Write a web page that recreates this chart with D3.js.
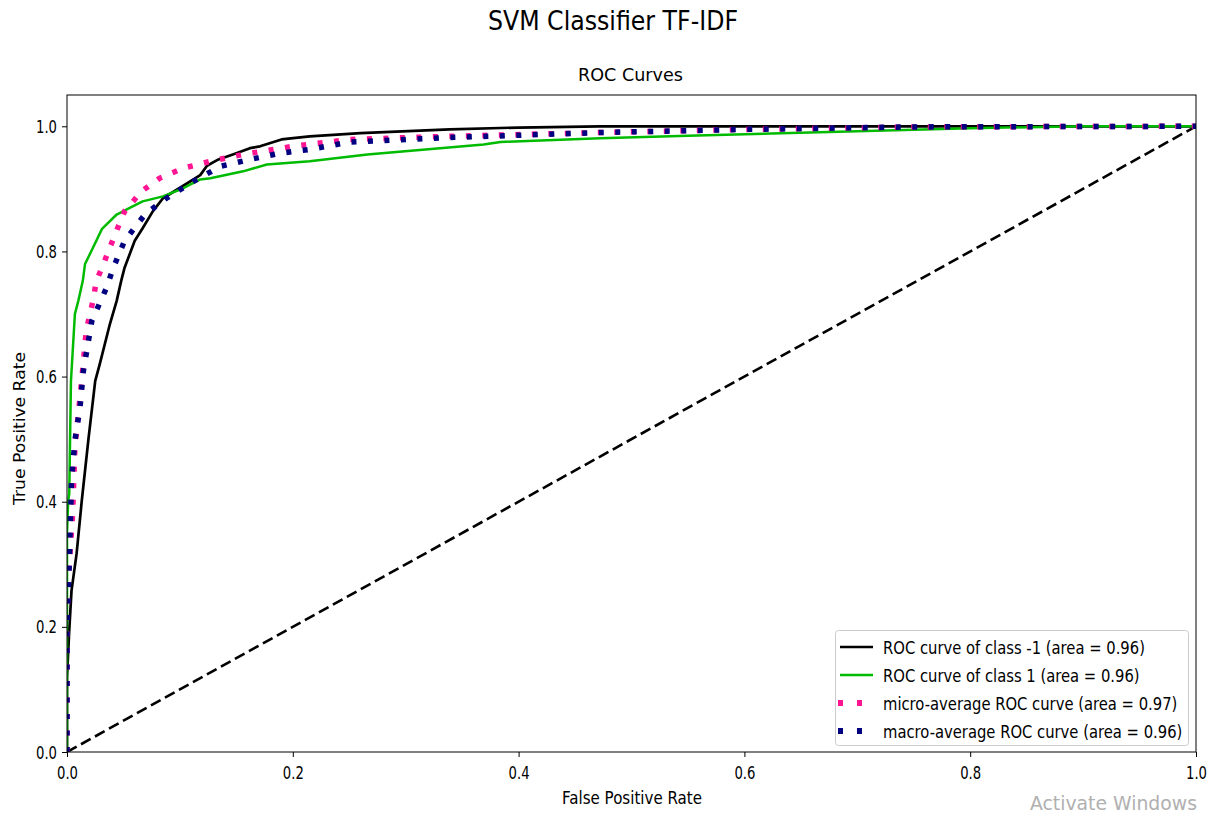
<!DOCTYPE html>
<html><head><meta charset="utf-8">
<script src="https://cdnjs.cloudflare.com/ajax/libs/d3/7.8.5/d3.min.js"></script>
<style>body{margin:0;background:#fff}</style>
</head><body>
<svg id="chart" width="1213" height="817"></svg>
<script>
const xTicks = [0, 0.2, 0.4, 0.6, 0.8, 1.0];
const yTicks = [0, 0.2, 0.4, 0.6, 0.8, 1.0];

const classNegFpr = [0, 0, 0.002, 0.004, 0.0085, 0.013, 0.019, 0.025, 0.029, 0.038, 0.044, 0.048, 0.051, 0.060, 0.067, 0.076, 0.085, 0.103, 0.118, 0.124, 0.133, 0.150, 0.162, 0.171, 0.190, 0.215, 0.260, 0.339, 0.40, 0.472, 0.6, 0.8, 1.0];
const classNegTpr = [0, 0.12, 0.195, 0.258, 0.317, 0.40, 0.50, 0.593, 0.62, 0.684, 0.721, 0.753, 0.774, 0.817, 0.837, 0.864, 0.885, 0.905, 0.922, 0.937, 0.946, 0.957, 0.965, 0.968, 0.979, 0.984, 0.989, 0.995, 0.998, 1.0, 1.0, 1.0, 1.0];

const classPosFpr = [0, 0, 0.001, 0.002, 0.0035, 0.007, 0.010, 0.014, 0.016, 0.023, 0.031, 0.044, 0.056, 0.067, 0.085, 0.103, 0.118, 0.127, 0.156, 0.177, 0.215, 0.266, 0.369, 0.384, 0.472, 0.55, 0.7, 0.8, 0.9, 1.0];
const classPosTpr = [0, 0.35, 0.40, 0.413, 0.593, 0.70, 0.721, 0.753, 0.78, 0.806, 0.836, 0.859, 0.870, 0.880, 0.888, 0.901, 0.915, 0.917, 0.928, 0.939, 0.944, 0.955, 0.971, 0.975, 0.981, 0.985, 0.992, 0.997, 1.0, 1.0];

const microFpr = [0, 0, 0.001, 0.005, 0.007, 0.013, 0.017, 0.023, 0.026, 0.031, 0.0425, 0.051, 0.066, 0.082, 0.103, 0.127, 0.156, 0.2, 0.251, 0.339, 0.472, 0.6, 0.75, 1.0];
const microTpr = [0, 0.2, 0.274, 0.38, 0.487, 0.593, 0.673, 0.721, 0.753, 0.774, 0.827, 0.864, 0.896, 0.917, 0.933, 0.944, 0.955, 0.968, 0.979, 0.984, 0.990, 0.995, 0.999, 1.0];

const macroFpr = [0, 0, 0.002, 0.004, 0.007, 0.0115, 0.0145, 0.022, 0.035, 0.041, 0.051, 0.069, 0.088, 0.112, 0.136, 0.162, 0.189, 0.215, 0.251, 0.339, 0.472, 0.6, 0.75, 1.0];
const macroTpr = [0, 0.2, 0.30, 0.434, 0.498, 0.55, 0.609, 0.689, 0.742, 0.774, 0.817, 0.859, 0.885, 0.912, 0.936, 0.947, 0.957, 0.963, 0.975, 0.982, 0.990, 0.995, 0.999, 1.0];

const diagFpr = [0, 1];
const diagTpr = [0, 1];

const seriesLabels = [
  "ROC curve of class -1 (area = 0.96)",
  "ROC curve of class 1 (area = 0.96)",
  "micro-average ROC curve (area = 0.97)",
  "macro-average ROC curve (area = 0.96)"
];

const svg = d3.select("#chart");
const W = 1213, H = 817;
const m = {left: 67, right: 17, top: 95, bottom: 65};
const x = d3.scaleLinear().domain([0, 1]).range([m.left, W - m.right]);
const y = d3.scaleLinear().domain([0, 1.05]).range([H - m.bottom, m.top]);

const FONT = "'DejaVu Sans', sans-serif";
function fit(sel, w) { return sel.attr("textLength", w).attr("lengthAdjust", "spacingAndGlyphs"); }

fit(svg.append("text").attr("x", 613).attr("y", 29.5).attr("text-anchor", "middle")
  .style("font-family", FONT).style("font-size", "26px").attr("fill", "#000")
  .text("SVM Classifier TF-IDF"), 250);
fit(svg.append("text").attr("x", 630.5).attr("y", 81).attr("text-anchor", "middle")
  .style("font-family", FONT).style("font-size", "17px").attr("fill", "#000")
  .text("ROC Curves"), 105);

const defs = svg.append("defs");
defs.append("clipPath").attr("id", "clip").append("rect")
  .attr("x", m.left).attr("y", m.top).attr("width", W - m.left - m.right).attr("height", H - m.top - m.bottom);

const line = d3.line().x(d => x(d[0])).y(d => y(d[1]));
const zipPts = (a, b) => a.map((v, i) => [v, b[i]]);

const series = [
  {pts: zipPts(diagFpr, diagTpr), color: "#000", width: 2.6, dash: "11,5"},
  {pts: zipPts(classNegFpr, classNegTpr), color: "#000", width: 2.7, dash: null},
  {pts: zipPts(classPosFpr, classPosTpr), color: "#00bb00", width: 2.5, dash: null},
  {pts: zipPts(microFpr, microTpr), color: "#ff1493", width: 5.5, dash: "5,11.5"},
  {pts: zipPts(macroFpr, macroTpr), color: "#000080", width: 5.5, dash: "5,11.5"}
];
const g = svg.append("g").attr("clip-path", "url(#clip)");
g.selectAll("path.s").data(series).join("path").attr("class", "s")
  .attr("d", d => line(d.pts)).attr("fill", "none")
  .attr("stroke", d => d.color).attr("stroke-width", d => d.width)
  .attr("stroke-dasharray", d => d.dash)
  .attr("stroke-linejoin", "round");

// axes
const xAxis = d3.axisBottom(x).tickValues(xTicks).tickFormat(d3.format(".1f")).tickSize(5).tickSizeOuter(0);
const yAxis = d3.axisLeft(y).tickValues(yTicks).tickFormat(d3.format(".1f")).tickSize(5).tickSizeOuter(0);
const gx = svg.append("g").attr("transform", `translate(0,${H - m.bottom})`).call(xAxis);
const gy = svg.append("g").attr("transform", `translate(${m.left},0)`).call(yAxis);
[gx, gy].forEach(a => {
  a.select(".domain").remove();
  a.selectAll("text").style("font-family", FONT).style("font-size", "17px").attr("fill", "#000")
    .attr("textLength", 21).attr("lengthAdjust", "spacingAndGlyphs");
  a.selectAll("line").attr("stroke", "#000");
});
gx.selectAll("text").attr("y", 27).attr("dy", null);
gy.selectAll("text").attr("x", -10).attr("dy", "0.36em");

svg.append("rect").attr("x", m.left).attr("y", m.top)
  .attr("width", W - m.left - m.right).attr("height", H - m.top - m.bottom)
  .attr("fill", "none").attr("stroke", "#000").attr("stroke-width", 1);

fit(svg.append("text").attr("x", 632).attr("y", 804).attr("text-anchor", "middle")
  .style("font-family", FONT).style("font-size", "17.5px").attr("fill", "#000")
  .text("False Positive Rate"), 140);
fit(svg.append("text").attr("transform", "translate(25,428.5) rotate(-90)").attr("text-anchor", "middle")
  .style("font-family", FONT).style("font-size", "16.5px").attr("fill", "#000")
  .text("True Positive Rate"), 153);

// legend
const lg = svg.append("g");
lg.append("rect").attr("x", 835.5).attr("y", 630.5).attr("width", 353).attr("height", 115)
  .attr("rx", 3).attr("fill", "#fff").attr("fill-opacity", 0.85).attr("stroke", "#cccccc");
const legendSeries = series.slice(1);
const legendTextScale = 0.845;
legendSeries.forEach((s, i) => {
  const cy = 647 + i * 28;
  lg.append("line").attr("x1", s.dash ? 838 : 840).attr("x2", 873).attr("y1", cy).attr("y2", cy)
    .attr("stroke", s.color).attr("stroke-width", s.dash ? 6 : 2.7)
    .attr("stroke-dasharray", s.dash ? "5,14" : null);
  lg.append("text").attr("transform", `translate(883,${cy + 6.5}) scale(${legendTextScale},1)`)
    .style("font-family", FONT).style("font-size", "17.5px").attr("fill", "#000")
    .text(seriesLabels[i]);
});

fit(svg.append("text").attr("x", 1030).attr("y", 810)
  .style("font-family", FONT).style("font-size", "20px").attr("fill", "#b0b0b0")
  .text("Activate Windows"), 167);
</script>
</body></html>
